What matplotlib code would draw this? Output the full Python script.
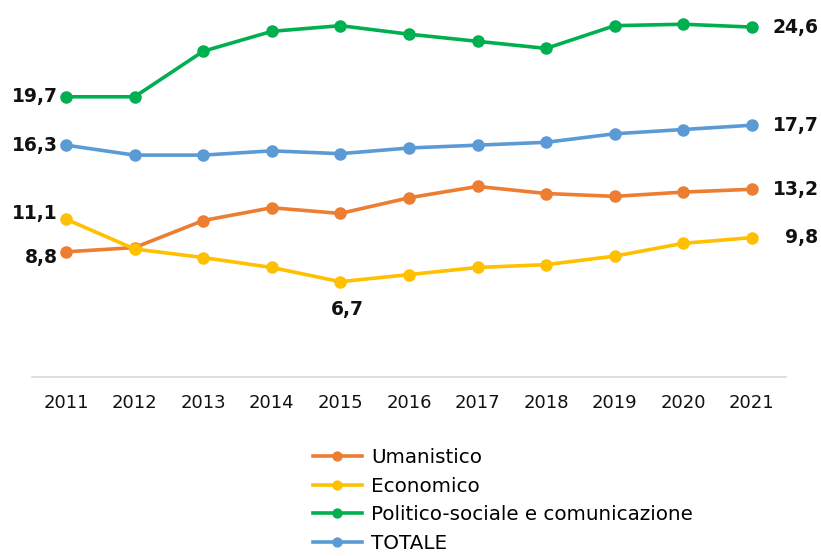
import matplotlib.pyplot as plt

years = ["2011", "2012", "2013", "2014", "2015", "2016", "2017", "2018", "2019", "2020", "2021"]
umanistico = [8.8, 9.1, 11.0, 11.9, 11.5, 12.6, 13.4, 12.9, 12.7, 13.0, 13.2]
economico = [11.1, 9.0, 8.4, 7.7, 6.7, 7.2, 7.7, 7.9, 8.5, 9.4, 9.8]
politico = [19.7, 19.7, 22.9, 24.3, 24.7, 24.1, 23.6, 23.1, 24.7, 24.8, 24.6]
totale = [16.3, 15.6, 15.6, 15.9, 15.7, 16.1, 16.3, 16.5, 17.1, 17.4, 17.7]

series = [
    ("Umanistico", umanistico, "#ED7D31"),
    ("Economico", economico, "#FFC000"),
    ("Politico-sociale e comunicazione", politico, "#00B050"),
    ("TOTALE", totale, "#5B9BD5"),
]

plt.rcParams['font.family'] = ['DejaVu Sans']

fig = plt.figure(figsize=(8.21, 5.56), dpi=100)
ax = fig.add_axes([0.0386, 0.3219, 0.919, 0.678])

x = list(range(len(years)))
for name, vals, col in series:
    ax.plot(x, vals, color=col, lw=2.6, marker="o", markersize=8, label=name)

ax.set_xlim(-0.5, len(years) - 0.5)
ax.set_ylim(0, 26.5)
ax.set_xticks(x)
ax.set_xticklabels(years, fontsize=13, color="#111111")
ax.set_yticks([])
for s in ["top", "left", "right"]:
    ax.spines[s].set_visible(False)
ax.spines["bottom"].set_color("#D9D9D9")
ax.spines["bottom"].set_linewidth(1.2)
ax.tick_params(axis="x", length=0, pad=12)

bold = dict(fontsize=13.5, fontweight="bold", color="#111111")
# first-year labels on the left
ax.annotate(f"{politico[0]}".replace(".", ","), (0, politico[0]), xytext=(-6, 0),
            textcoords="offset points", ha="right", va="center", **bold)
ax.annotate(f"{totale[0]}".replace(".", ","), (0, totale[0]), xytext=(-6, 0),
            textcoords="offset points", ha="right", va="center", **bold)
ax.annotate(f"{economico[0]}".replace(".", ","), (0, economico[0]), xytext=(-6, 4),
            textcoords="offset points", ha="right", va="center", **bold)
ax.annotate(f"{umanistico[0]}".replace(".", ","), (0, umanistico[0]), xytext=(-6, -4),
            textcoords="offset points", ha="right", va="center", **bold)
# last-year labels on the right
for vals in [politico, totale, umanistico, economico]:
    ax.annotate(f"{vals[-1]}".replace(".", ","), (10, vals[-1]), xytext=(48, 0),
                textcoords="offset points", ha="right", va="center",
                annotation_clip=False, **bold)
# minimum
ax.annotate(f"{economico[4]}".replace(".", ","), (4, economico[4]), xytext=(5, -20),
            textcoords="offset points", ha="center", va="center", **bold)

leg = fig.legend(loc="upper left", bbox_to_anchor=(0.371, 0.208), frameon=False,
                 fontsize=14.3, handlelength=2.5, handletextpad=0.45,
                 labelspacing=0.48, borderaxespad=0, markerscale=0.8)

fig.savefig("out.png", dpi=100)
